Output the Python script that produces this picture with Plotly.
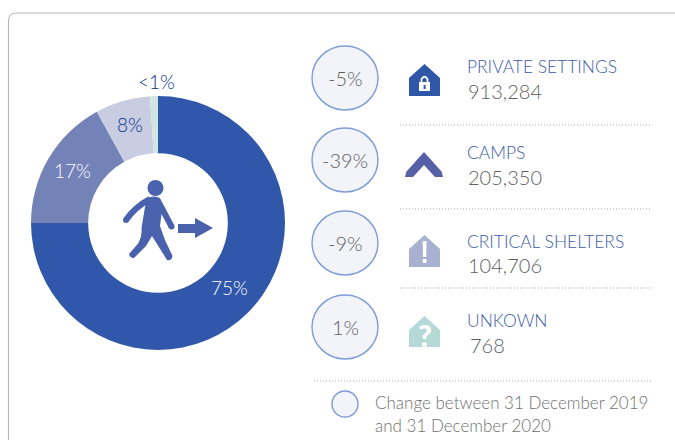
import plotly.graph_objects as go

categories = ["PRIVATE SETTINGS", "CAMPS", "CRITICAL SHELTERS", "UNKOWN"]
counts = ["913,284", "205,350", "104,706", "768"]
changes = ["-5%", "-39%", "-9%", "1%"]
shares = [75, 17, 7, 1]
share_labels = ["75%", "17%", "8%", "<1%"]
slice_colors = ["#3057a9", "#7382b7", "#c8cde2", "#cfe6e3"]
label_colors = ["#ffffff", "#ffffff", "#08308f", "#08308f"]
note_lines = ["Change between 31 December 2019", "and 31 December 2020"]

FONT = "Lato"
GREY = "#5f5f5f"
BLUE = "#3d5cab"

W, H = 675, 440
fig = go.Figure()
fig.add_trace(go.Pie(
    labels=categories, values=shares, textinfo="none",
    hole=0.55, sort=False, direction="clockwise", rotation=0,
    marker=dict(colors=slice_colors, line=dict(width=0)),
    domain=dict(x=[31 / W, 285 / W], y=[1 - 350 / H, 1 - 96 / H]),
    showlegend=False, hoverinfo="label+percent",
))

shapes = []
annotations = []


def text(x, y, s, size, color, anchor="left", weight=300):
    annotations.append(dict(x=x, y=y, text=s, showarrow=False, xanchor=anchor, yanchor="middle",
                            xref="x", yref="y", borderpad=0, borderwidth=0,
                            font=dict(family=FONT, size=size, color=color, weight=weight)))


def path(d, fill, line=None, width=0):
    shapes.append(dict(type="path", path=d, fillcolor=fill, layer="above",
                       line=dict(color=line or fill, width=width)))


def stroke(d, color, width):
    shapes.append(dict(type="path", path=d, fillcolor="rgba(0,0,0,0)", layer="above",
                       line=dict(color=color, width=width)))


def circle(cx, cy, rx, ry, fill, line, width):
    shapes.append(dict(type="circle", x0=cx - rx, x1=cx + rx, y0=cy - ry, y1=cy + ry,
                       fillcolor=fill, line=dict(color=line, width=width), layer="above"))


def dotted(x0, x1, y):
    shapes.append(dict(type="line", x0=x0, x1=x1, y0=y, y1=y, layer="above",
                       line=dict(color="#a8a8a8", width=1, dash="1px 2px")))


def house(top, shoulder, bottom, color):
    path(f"M409,{bottom} L409,{shoulder} L424.5,{top} L440,{shoulder} L440,{bottom} Z", color)


# panel outline
stroke("M8.5,440 L8.5,21 Q8.5,13 16.5,13 L675,13", "#b8b8b8", 1.2)

# slice labels
label_x = [229, 72, 130, 156]
label_y = [287, 170, 124, 81]
for i in range(4):
    text(label_x[i], label_y[i], share_labels[i], 19, label_colors[i], "center")

# walking figure
WALK = "#4a62ad"
circle(155.5, 188, 8, 8, WALK, WALK, 0)
path("M147,198.5 Q152,195.5 158,197 L162,210 L160,226 L165,240 L172.5,256 Q172,261 167,260 "
     "L152,236 L146,246 L134,258 Q129.5,258 129,254 L138.5,243 Q142.5,235 141.5,228 L145,207 Z", WALK)
stroke("M126,220 Q135,207 150,199", WALK, 6)
stroke("M157,199 L171.5,226.5", WALK, 6)
circle(126, 220, 3, 3, WALK, WALK, 0)
circle(171.5, 226.5, 3, 3, WALK, WALK, 0)
path("M178,224 L195,224 L195,218 L213,228 L195,238 L195,233 L178,233 Z", WALK)

# rows
row_circle_y = [78, 160, 243, 327]
row_name_y = [66, 152, 241, 320]
row_count_y = [91, 177, 265, 345]
row_count_x = [468, 468, 468, 470]
for i in range(4):
    circle(345, row_circle_y[i], 33, 32, "#f2f4f9", "#7f9cd8", 1.4)
    text(345, row_circle_y[i], changes[i], 20, GREY, "center")
    text(467, row_name_y[i], categories[i], 17.4, BLUE)
    text(row_count_x[i], row_count_y[i], counts[i], 20, GREY)

for y in (125, 209, 288):
    dotted(400, 650, y)
dotted(314, 652, 381)

# icons
house(64, 78, 96, "#2f57a8")
path("M419,82 L430,82 L430,91 L419,91 Z", "#ffffff")
stroke("M421.5,82 L421.5,79 Q424.5,74.5 427.5,79 L427.5,82", "#ffffff", 1.8)
path("M423.6,85 L425.6,85 L425.6,89 L423.6,89 Z", "#2f57a8")

path("M424,152 L441.7,171.7 L443,177 L435,177 L424,165 L413,177 L405,177 L406.3,171.7 Z", "#5660a9")

house(235, 249, 267, "#a8b1d2")
path("M422.6,241 L426.6,241 L426.2,257 L423,257 Z", "#ffffff")
path("M422.8,259 L426.4,259 L426.4,263 L422.8,263 Z", "#ffffff")

house(316, 330, 347, "#b5d9d6")
text(424.5, 335, "?", 30, "#ffffff", "center", 900)

# note
circle(345, 404, 13, 13, "#f2f4f9", "#7f9cd8", 1.4)
text(375, 402, note_lines[0], 17, "#707070")
text(375, 425, note_lines[1], 17, "#707070")

fig.update_layout(
    width=W, height=H, margin=dict(l=0, r=0, t=0, b=0),
    paper_bgcolor="#ffffff", plot_bgcolor="rgba(0,0,0,0)",
    xaxis=dict(range=[0, W], visible=False, fixedrange=True),
    yaxis=dict(range=[H, 0], visible=False, fixedrange=True),
    shapes=shapes, annotations=annotations,
)
fig.write_html("out.html", post_script="document.body.style.margin='0';",
               config={"displayModeBar": False})
